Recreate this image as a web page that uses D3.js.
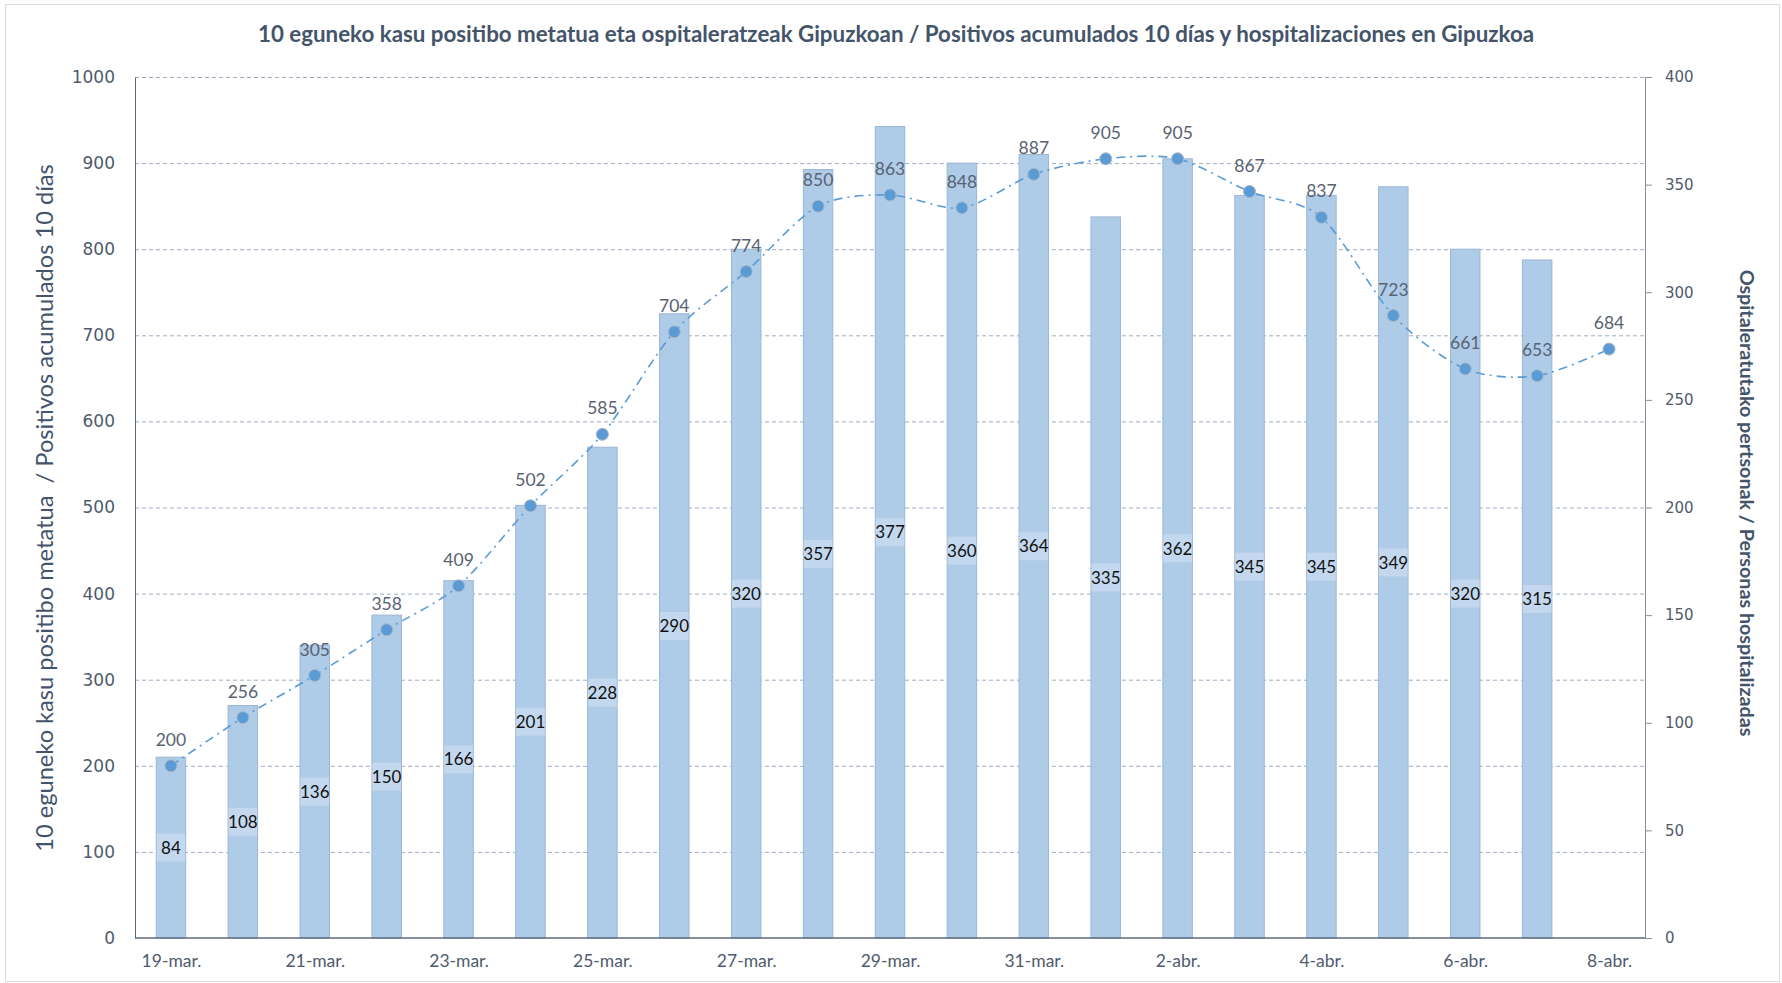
<!DOCTYPE html>
<html>
<head>
<meta charset="utf-8">
<script src="https://cdn.jsdelivr.net/npm/d3@7"></script>
<style>
  body { margin: 0; background: #fff; }
  svg { display: block; }
</style>
</head>
<body>
<script>
// days on the x axis
const days = ['19-mar.', '20-mar.', '21-mar.', '22-mar.', '23-mar.', '24-mar.', '25-mar.',
  '26-mar.', '27-mar.', '28-mar.', '29-mar.', '30-mar.', '31-mar.', '1-abr.', '2-abr.',
  '3-abr.', '4-abr.', '5-abr.', '6-abr.', '7-abr.', '8-abr.']

// 10 day accumulated positives (line, left axis)
const positivos = [200, 256, 305, 358, 409, 502, 585, 704, 774, 850, 863, 848, 887, 905, 905,
  867, 837, 723, 661, 653, 684]

// hospitalised people (bars, right axis) - no bar yet for 8-abr
const hospital = [84, 108, 136, 150, 166, 201, 228, 290, 320, 357, 377, 360, 364, 335, 362,
  345, 345, 349, 320, 315]

const leftTicks = [0, 100, 200, 300, 400, 500, 600, 700, 800, 900, 1000]
const rightTicks = [0, 50, 100, 150, 200, 250, 300, 350, 400]

const W = 1782, H = 983
const m = { left: 135, right: 1645, top: 77, bottom: 938 }

const svg = d3.select('body').append('svg').attr('width', W).attr('height', H)

// light frame round the chart
svg.append('rect')
  .attr('x', 5.5).attr('y', 4.5).attr('width', W - 8).attr('height', H - 6)
  .attr('fill', 'none').attr('stroke', '#d9dde3')

const x = d3.scaleBand().domain(days).range([m.left, m.right]).paddingInner(0.59).paddingOuter(0.295)
const xc = d3.scalePoint().domain(days).range([m.left, m.right]).padding(0.5)
const yL = d3.scaleLinear().domain([0, 1000]).range([m.bottom, m.top])
const yR = d3.scaleLinear().domain([0, 400]).range([m.bottom, m.top])

const ink = '#4f5b6d'

// fit a text node to a wanted width by changing its font size
function fit(sel, width) {
  const n = sel.node()
  const fs = parseFloat(sel.attr('font-size'))
  sel.attr('font-size', fs * width / n.getComputedTextLength())
}

// title
svg.append('text')
  .attr('x', 896).attr('y', 34).attr('dy', '0.35em')
  .attr('text-anchor', 'middle')
  .attr('font-family', 'Lato').attr('font-weight', 'bold').attr('font-size', 19)
  .attr('fill', '#44546a')
  .text('10 eguneko kasu positibo metatua eta ospitaleratzeak Gipuzkoan / Positivos acumulados 10 días y hospitalizaciones en Gipuzkoa')
  .call(fit, 1277)

// gridlines (left scale)
svg.append('g')
  .selectAll('line')
  .data(leftTicks.filter(d => d > 0))
  .enter().append('line')
    .attr('x1', m.left).attr('x2', m.right)
    .attr('y1', d => yL(d) + 0.5).attr('y2', d => yL(d) + 0.5)
    .attr('stroke', '#9fadc2').attr('stroke-width', 1).attr('stroke-dasharray', '4,3')

// bars
const bars = svg.append('g')
bars.selectAll('rect.bar')
  .data(hospital)
  .enter().append('rect')
    .attr('class', 'bar')
    .attr('x', (d, i) => x(days[i]))
    .attr('width', x.bandwidth())
    .attr('y', d => yR(d))
    .attr('height', d => m.bottom - yR(d))
    .attr('fill', '#aecbe8')
    .attr('stroke', '#9db6d3').attr('stroke-width', 1)

// bar label boxes and labels, in the middle of each bar
bars.selectAll('rect.lab')
  .data(hospital)
  .enter().append('rect')
    .attr('class', 'lab')
    .attr('x', (d, i) => x(days[i]) + 0.5)
    .attr('width', x.bandwidth() - 1)
    .attr('y', d => (yR(d) + m.bottom) / 2 - 14)
    .attr('height', 28)
    .attr('fill', '#c3d8ee')

bars.selectAll('text')
  .data(hospital)
  .enter().append('text')
    .attr('x', (d, i) => xc(days[i]))
    .attr('y', d => (yR(d) + m.bottom) / 2)
    .attr('dy', '0.36em')
    .attr('text-anchor', 'middle')
    .attr('font-family', 'Lato').attr('font-size', 17)
    .attr('fill', '#111')
    .text(d => d)

// left axis
const gL = svg.append('g').attr('transform', `translate(${m.left},0)`)
  .call(d3.axisLeft(yL).tickValues(leftTicks).tickFormat(d3.format('d')).tickSize(0).tickPadding(20))
gL.select('.domain').attr('stroke', '#5d6a7e')
gL.selectAll('text').attr('font-family', 'DejaVu Sans').attr('font-size', 17).attr('fill', ink)

// right axis
const gR = svg.append('g').attr('transform', `translate(${m.right},0)`)
  .call(d3.axisRight(yR).tickValues(rightTicks).tickSize(7).tickPadding(13))
gR.select('.domain').attr('stroke', '#8c8f94')
gR.selectAll('line').attr('stroke', '#8c8f94')
gR.selectAll('text').attr('font-family', 'DejaVu Sans').attr('font-size', 15).attr('fill', ink)

// bottom axis, label every other day
const gB = svg.append('g').attr('transform', `translate(0,${m.bottom})`)
  .call(d3.axisBottom(xc).tickValues(days.filter((d, i) => i % 2 === 0)).tickSize(0).tickPadding(17))
gB.select('.domain').attr('stroke', '#5d6a7e').attr('stroke-width', 1.5)
  .attr('d', `M${m.left},0H${m.right}`)
gB.selectAll('text').attr('font-family', 'Lato').attr('font-size', 17.5).attr('fill', ink)

// line of positives
const line = d3.line()
  .x((d, i) => xc(days[i]))
  .y(d => yL(d))
  .curve(d3.curveCardinal.tension(0.15))

svg.append('path')
  .datum(positivos)
  .attr('d', line)
  .attr('fill', 'none')
  .attr('stroke', '#5b9bd5').attr('stroke-width', 1.6)
  .attr('stroke-dasharray', '9,5,2,5')

svg.append('g').selectAll('circle')
  .data(positivos)
  .enter().append('circle')
    .attr('cx', (d, i) => xc(days[i]))
    .attr('cy', d => yL(d))
    .attr('r', 6)
    .attr('fill', '#5b9bd5')
    .attr('stroke', '#a9b6c6').attr('stroke-width', 1)

svg.append('g').selectAll('text')
  .data(positivos)
  .enter().append('text')
    .attr('x', (d, i) => xc(days[i]))
    .attr('y', d => yL(d) - 26)
    .attr('dy', '0.35em')
    .attr('text-anchor', 'middle')
    .attr('font-family', 'Lato').attr('font-size', 17.5)
    .attr('fill', '#596273')
    .text(d => d)

// axis titles
svg.append('text')
  .attr('transform', 'translate(45,508) rotate(-90)')
  .attr('dy', '0.35em')
  .attr('text-anchor', 'middle')
  .attr('font-family', 'Lato').attr('font-size', 21)
  .attr('fill', '#44546a')
  .attr('xml:space', 'preserve')
  .text('10 eguneko kasu positibo metatua  / Positivos acumulados 10 días')
  .call(fit, 688)

svg.append('text')
  .attr('transform', 'translate(1747,503) rotate(90)')
  .attr('dy', '0.35em')
  .attr('text-anchor', 'middle')
  .attr('font-family', 'Lato').attr('font-weight', 'bold').attr('font-size', 17)
  .attr('fill', '#44546a')
  .text('Ospitaleratutako pertsonak / Personas hospitalizadas')
  .call(fit, 467)
</script>
</body>
</html>
